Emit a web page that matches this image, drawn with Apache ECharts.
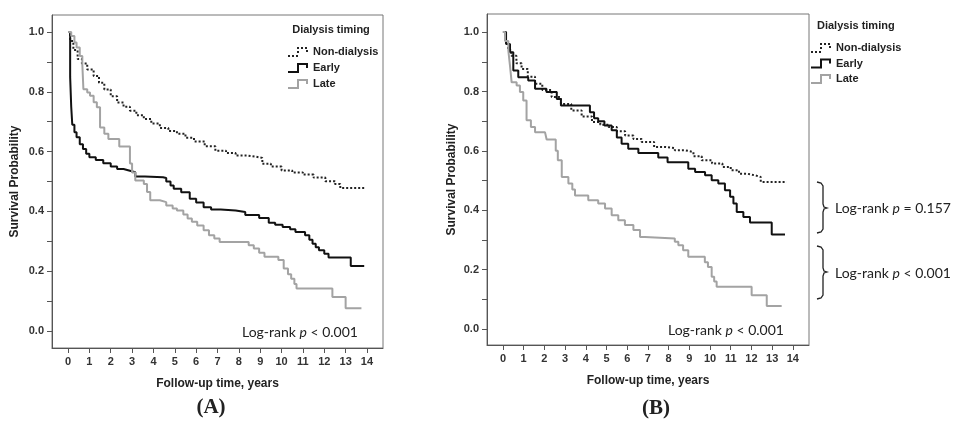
<!DOCTYPE html>
<html>
<head>
<meta charset="utf-8">
<script src="https://cdn.jsdelivr.net/npm/echarts@6.0.0/dist/echarts.min.js"></script>
<style>
html, body { margin: 0; padding: 0; background: #fff; }
#main { width: 960px; height: 423px; }
</style>
</head>
<body>
<div id="main"></div>
<script>
var chartDom = document.getElementById('main');
var myChart = echarts.init(chartDom);
var option;

// ticks
var yearTicks = [0, 1, 2, 3, 4, 5, 6, 7, 8, 9, 10, 11, 12, 13, 14];
var probLabels = [0, 0.2, 0.4, 0.6, 0.8, 1.0];
var probTicks = [0, 0.1, 0.2, 0.3, 0.4, 0.5, 0.6, 0.7, 0.8, 0.9, 1.0];
var groupNames = ['Non-dialysis', 'Early', 'Late'];

// panel A (time in years, survival after that time)
var aNonTime = [0, 0.1, 0.25, 0.45, 0.65, 0.9, 1.2, 1.45, 1.7, 2.0, 2.3, 2.6, 2.9, 3.2, 3.55, 3.9, 4.3, 4.7, 5.1, 5.5, 5.9, 6.4, 6.9, 7.4, 7.85, 8.4, 8.8, 9.1, 9.5, 10.0, 10.5, 11.0, 11.5, 12.05, 12.5, 12.75, 13.95];
var aNonSurv = [1.0, 0.97, 0.94, 0.91, 0.895, 0.875, 0.853, 0.83, 0.808, 0.785, 0.764, 0.75, 0.737, 0.722, 0.709, 0.694, 0.679, 0.669, 0.66, 0.646, 0.634, 0.618, 0.603, 0.595, 0.587, 0.583, 0.579, 0.559, 0.55, 0.537, 0.53, 0.523, 0.513, 0.501, 0.492, 0.478, 0.478];
var aEarlyTime = [0, 0.1, 0.15, 0.2, 0.3, 0.4, 0.55, 0.7, 0.85, 1.0, 1.3, 1.65, 2.0, 2.3, 2.6, 2.9, 3.15, 3.6, 4.45, 4.6, 4.8, 4.95, 5.3, 5.7, 6.0, 6.35, 6.7, 7.15, 7.85, 8.3, 8.95, 9.4, 9.7, 10.05, 10.4, 10.65, 11.1, 11.3, 11.45, 11.6, 11.75, 12.0, 12.2, 13.24, 13.87];
var aEarlySurv = [1.0, 0.85, 0.75, 0.69, 0.665, 0.648, 0.625, 0.609, 0.593, 0.581, 0.572, 0.561, 0.55, 0.542, 0.536, 0.531, 0.517, 0.514, 0.512, 0.5, 0.487, 0.476, 0.464, 0.442, 0.43, 0.414, 0.406, 0.403, 0.398, 0.388, 0.378, 0.362, 0.355, 0.348, 0.34, 0.331, 0.32, 0.305, 0.292, 0.28, 0.27, 0.258, 0.246, 0.217, 0.217];
var aLateTime = [0, 0.15, 0.3, 0.4, 0.55, 0.67, 0.72, 0.9, 1.03, 1.2, 1.35, 1.5, 1.7, 1.89, 2.4, 2.9, 3.0, 3.15, 3.55, 3.7, 3.85, 4.3, 4.6, 4.9, 5.1, 5.4, 5.6, 5.8, 6.05, 6.35, 6.6, 6.85, 7.1, 8.46, 8.7, 8.95, 9.2, 9.85, 10.1, 10.3, 10.45, 10.6, 10.7, 12.38, 13.0, 13.74];
var aLateSurv = [1.0, 0.987, 0.965, 0.948, 0.92, 0.892, 0.809, 0.798, 0.787, 0.765, 0.748, 0.681, 0.66, 0.642, 0.617, 0.56, 0.53, 0.503, 0.492, 0.465, 0.437, 0.431, 0.42, 0.41, 0.403, 0.39, 0.376, 0.365, 0.353, 0.337, 0.32, 0.309, 0.298, 0.287, 0.276, 0.262, 0.248, 0.237, 0.209, 0.19, 0.175, 0.157, 0.142, 0.114, 0.076, 0.076];

// panel B
var bNonTime = [0, 0.1, 0.25, 0.4, 0.65, 0.9, 1.2, 1.55, 1.9, 2.35, 2.8, 3.3, 3.8, 4.3, 4.7, 5.1, 5.5, 5.9, 6.3, 6.7, 7.3, 7.85, 8.3, 8.8, 9.2, 9.6, 10.1, 10.6, 11.0, 11.4, 11.8, 12.2, 12.45, 13.7];
var bNonSurv = [1.0, 0.97, 0.94, 0.92, 0.895, 0.876, 0.85, 0.826, 0.805, 0.781, 0.758, 0.736, 0.716, 0.697, 0.688, 0.68, 0.666, 0.652, 0.64, 0.63, 0.613, 0.609, 0.602, 0.596, 0.582, 0.568, 0.557, 0.546, 0.535, 0.523, 0.517, 0.512, 0.495, 0.495];
var bEarlyTime = [0, 0.15, 0.34, 0.5, 0.74, 1.22, 1.55, 2.1, 2.6, 2.8, 4.2, 4.4, 4.6, 4.9, 5.25, 5.5, 5.73, 6.05, 6.54, 7.5, 7.95, 8.95, 9.28, 9.76, 10.08, 10.4, 10.72, 10.97, 11.13, 11.29, 11.61, 11.93, 12.98, 13.62];
var bEarlySurv = [1.0, 0.96, 0.932, 0.871, 0.848, 0.837, 0.809, 0.798, 0.775, 0.753, 0.73, 0.71, 0.7, 0.685, 0.669, 0.645, 0.624, 0.607, 0.593, 0.578, 0.562, 0.54, 0.529, 0.518, 0.501, 0.49, 0.467, 0.445, 0.423, 0.394, 0.377, 0.359, 0.318, 0.318];
var bLateTime = [0, 0.1, 0.26, 0.35, 0.42, 0.66, 0.82, 0.98, 1.14, 1.35, 1.55, 2.03, 2.11, 2.55, 2.65, 2.84, 3.16, 3.35, 3.48, 4.12, 4.6, 4.93, 5.25, 5.57, 5.89, 6.3, 6.62, 6.86, 8.3, 8.47, 8.7, 8.95, 9.75, 9.9, 10.08, 10.2, 10.32, 12.01, 12.74, 13.46];
var bLateSurv = [1.0, 0.97, 0.938, 0.88, 0.831, 0.82, 0.798, 0.77, 0.703, 0.68, 0.663, 0.658, 0.638, 0.6, 0.568, 0.512, 0.49, 0.47, 0.45, 0.434, 0.423, 0.406, 0.383, 0.366, 0.35, 0.333, 0.31, 0.305, 0.294, 0.282, 0.265, 0.243, 0.225, 0.209, 0.176, 0.16, 0.142, 0.114, 0.077, 0.077];

var narrow = "'Liberation Sans Narrow', 'Arial Narrow', 'Liberation Sans', sans-serif";
var plain = "'Liberation Sans', Arial, sans-serif";
var calib = "Lato, 'Open Sans', sans-serif";

function zip(t, s) {
    return t.map(function (v, i) { return [v, s[i]]; });
}

var lineStyles = [
    {color: '#222', width: 2, type: [2, 2]},
    {color: '#111', width: 2, type: 'solid'},
    {color: '#a3a3a3', width: 2, type: 'solid'}
];

function kmSeries(name, idx, gi, data) {
    return {
        name: name,
        type: 'line',
        step: 'end',
        xAxisIndex: gi,
        yAxisIndex: gi,
        showSymbol: false,
        symbol: 'none',
        silent: true,
        itemStyle: {color: lineStyles[idx].color},
        lineStyle: lineStyles[idx],
        data: data
    };
}

function xAxisFor(gi, min, max) {
    return {
        type: 'value', gridIndex: gi, min: min, max: max,
        axisLine: {show: true, onZero: false, lineStyle: {color: '#555'}},
        axisTick: {show: true, length: 5, customValues: yearTicks, lineStyle: {color: '#555'}},
        axisLabel: {customValues: yearTicks, fontFamily: narrow, fontWeight: 'bold', fontSize: 11, color: '#333', margin: 8},
        splitLine: {show: false},
        name: 'Follow-up time, years', nameLocation: 'middle', nameGap: 30,
        nameTextStyle: {fontFamily: plain, fontWeight: 'bold', fontSize: 12, color: '#222'}
    };
}

function yAxisFor(gi, min, max, gap) {
    return {
        type: 'value', gridIndex: gi, min: min, max: max,
        axisLine: {show: true, onZero: false, lineStyle: {color: '#555'}},
        axisTick: {show: true, length: 5, customValues: probTicks, lineStyle: {color: '#555'}},
        axisLabel: {customValues: probLabels, fontFamily: narrow, fontWeight: 'bold', fontSize: 11, color: '#333', margin: 8,
            formatter: function (v) { return v.toFixed(1); }},
        splitLine: {show: false},
        name: 'Survival Probability', nameLocation: 'middle', nameRotate: 90, nameGap: gap,
        nameTextStyle: {fontFamily: plain, fontWeight: 'bold', fontSize: 12, color: '#222'}
    };
}

var stepIcon = 'path://M0,8L9,8L9,0L20,0L20,5L18,5L18,2L11,2L11,10L0,10Z';
var dotIcon = 'path://M0,8h2v2h-2z M4,8h2v2h-2z M8,8h2v2h-2z M9,4h2v2h-2z M9,0h2v2h-2z M13,0h2v2h-2z M17,0h2v2h-2z M18,3h2v2h-2z';

function legendFor(left, top, gap) {
    return {
        orient: 'vertical', left: left, top: top, itemWidth: 20, itemHeight: 10, itemGap: gap,
        padding: 0,
        selectedMode: false,
        textStyle: {fontFamily: narrow, fontWeight: 'bold', fontSize: 11, color: '#222', lineHeight: 14},
        data: [
            {name: groupNames[0], icon: dotIcon, itemStyle: {color: lineStyles[0].color, borderWidth: 0}},
            {name: groupNames[1], icon: stepIcon, itemStyle: {color: lineStyles[1].color, borderWidth: 0}},
            {name: groupNames[2], icon: stepIcon, itemStyle: {color: lineStyles[2].color, borderWidth: 0}}
        ]
    };
}

function txt(x, y, text, font, align, rich) {
    return {
        type: 'text', x: x, y: y, silent: true,
        style: {text: text, font: font, fill: '#222', align: align || 'left', verticalAlign: 'middle', rich: rich}
    };
}

var pRich = {i: {fontStyle: 'italic', fontFamily: calib, fontSize: 14, fill: '#222'}};
var lrFont = '14px ' + calib;

option = {
    animation: false,
    grid: [
        {left: 52, top: 15, width: 331, height: 333, show: true, borderColor: '#777', borderWidth: 1},
        {left: 487, top: 14, width: 322, height: 331, show: true, borderColor: '#777', borderWidth: 1}
    ],
    xAxis: [xAxisFor(0, -0.75, 14.75), xAxisFor(1, -0.77, 14.78)],
    yAxis: [yAxisFor(0, -0.057, 1.057, 31), yAxisFor(1, -0.054, 1.061, 29)],
    legend: [legendFor(288, 45, 2), legendFor(811, 41, 1.5)],
    graphic: [
        txt(331, 30, 'Dialysis timing', 'bold 11px ' + narrow, 'center'),
        txt(817, 26, 'Dialysis timing', 'bold 11px ' + narrow, 'left'),
        txt(242, 332, 'Log-rank {i|p} < 0.001', lrFont, 'left', pRich),
        txt(668, 330, 'Log-rank {i|p} < 0.001', lrFont, 'left', pRich),
        txt(835, 208, 'Log-rank {i|p} = 0.157', lrFont, 'left', pRich),
        txt(835, 273, 'Log-rank {i|p} < 0.001', lrFont, 'left', pRich),
        txt(211, 408, '(A)', 'bold 21px "Liberation Serif", serif', 'center'),
        txt(656, 409, '(B)', 'bold 21px "Liberation Serif", serif', 'center'),
        {
            type: 'polyline', silent: true,
            shape: {points: [[817, 182], [821, 183], [823, 186], [823, 204], [824, 207], [827, 208], [824, 209], [823, 212], [823, 229], [821, 232], [817, 233]]},
            style: {stroke: '#222', lineWidth: 1.3, fill: null}
        },
        {
            type: 'polyline', silent: true,
            shape: {points: [[817, 246], [821, 247], [823, 250], [823, 268], [824, 271], [827, 272], [824, 273], [823, 276], [823, 295], [821, 298], [817, 299]]},
            style: {stroke: '#222', lineWidth: 1.3, fill: null}
        }
    ],
    series: [
        kmSeries(groupNames[0], 0, 0, zip(aNonTime, aNonSurv)),
        kmSeries(groupNames[1], 1, 0, zip(aEarlyTime, aEarlySurv)),
        kmSeries(groupNames[2], 2, 0, zip(aLateTime, aLateSurv)),
        kmSeries(groupNames[0], 0, 1, zip(bNonTime, bNonSurv)),
        kmSeries(groupNames[1], 1, 1, zip(bEarlyTime, bEarlySurv)),
        kmSeries(groupNames[2], 2, 1, zip(bLateTime, bLateSurv))
    ]
};

option && myChart.setOption(option);
</script>
</body>
</html>
